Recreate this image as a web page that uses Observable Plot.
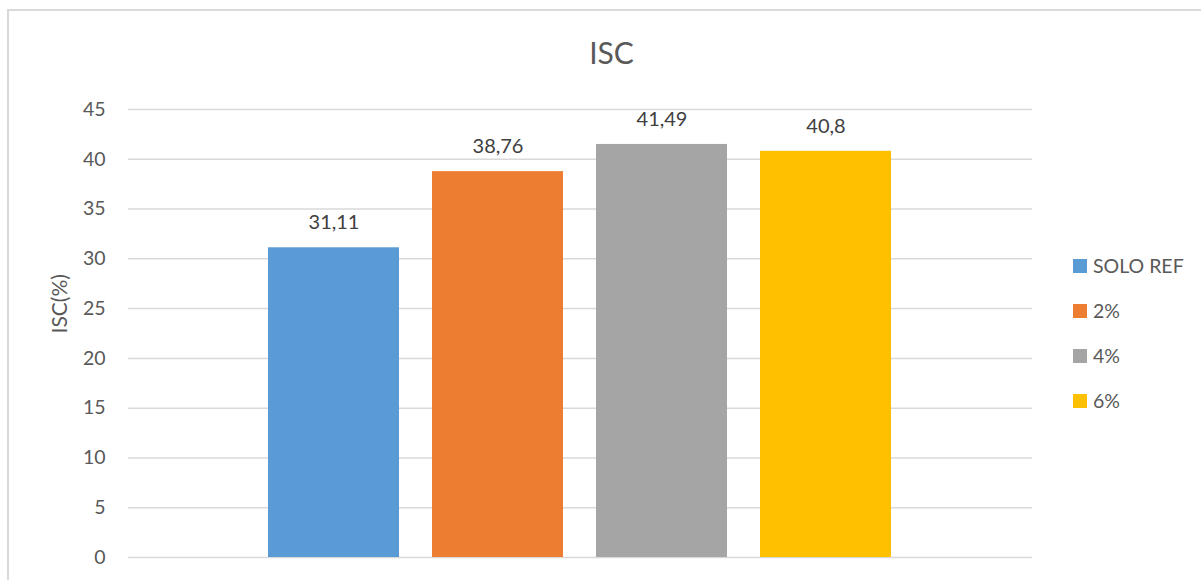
<!DOCTYPE html>
<html><head><meta charset="utf-8">
<script src="https://cdn.jsdelivr.net/npm/d3@7"></script>
<script src="https://cdn.jsdelivr.net/npm/@observablehq/plot@0.6"></script>
<style>
body{margin:0;background:#fff;font-family:Lato,"Open Sans",sans-serif;}
#wrap{position:relative;width:1201px;height:580px;overflow:hidden;}
#border{position:absolute;left:7px;top:9px;width:1300px;height:700px;border:2px solid #d9d9d9;box-sizing:border-box;}
#chart{position:absolute;left:0;top:0;}
#legend{position:absolute;left:1073px;top:0;}
.item{position:absolute;left:0;display:flex;align-items:center;white-space:nowrap;font-size:19.5px;color:#595959;}
.sw{width:14px;height:14px;margin-right:6px;}
</style></head>
<body><div id="wrap"><div id="border"></div><div id="chart"></div><div id="legend"></div></div>
<script>
const categories = ["SOLO REF", "2%", "4%", "6%"];
const values = [31.11, 38.76, 41.49, 40.8];
const colors = ["#5b9bd5", "#ed7d31", "#a5a5a5", "#ffc000"];
const yTicks = [0, 5, 10, 15, 20, 25, 30, 35, 40, 45];
const title = "ISC";
const yLabel = "ISC(%)";

const data = categories.map((c, i) => ({cat: c, v: values[i], label: String(values[i]).replace(".", ",")}));

const chart = Plot.plot({
  width: 1201, height: 580,
  marginLeft: 128, marginRight: 169, marginTop: 109, marginBottom: 23,
  style: {fontFamily: "Lato, 'Open Sans', sans-serif", fontSize: "19px", color: "#595959", background: "transparent"},
  x: {domain: categories, paddingInner: 0.2, paddingOuter: 0.851, axis: null},
  y: {domain: [0, 45], ticks: yTicks, label: null},
  color: {domain: categories, range: colors},
  marks: [
    Plot.ruleY(yTicks, {stroke: "#d9d9d9", strokeWidth: 1.5}),
    Plot.axisY({ticks: yTicks, tickSize: 0, tickPadding: 23, fontSize: 19.5, fill: "#595959", label: null}),
    Plot.barY(data, {x: "cat", y: "v", fill: "cat"}),
    Plot.text(data, {x: "cat", y: "v", text: "label", dy: -25, fontSize: 20, fill: "#404040"}),
    Plot.text([title], {frameAnchor: "top", lineAnchor: "middle", dx: 31, dy: -55, fontSize: 30, fill: "#595959", text: d => d}),
    Plot.text([yLabel], {frameAnchor: "left", dx: -68, rotate: -90, fontSize: 21, fill: "#595959", text: d => d})
  ]
});
document.getElementById("chart").append(chart);

const legend = document.getElementById("legend");
const legendTop = [266, 311, 356, 401];
categories.forEach((c, i) => {
  const it = document.createElement("div");
  it.className = "item";
  it.style.top = (legendTop[i] - 12) + "px";
  it.innerHTML = `<div class="sw" style="background:${colors[i]}"></div><span>${c}</span>`;
  legend.append(it);
});
</script></body></html>
